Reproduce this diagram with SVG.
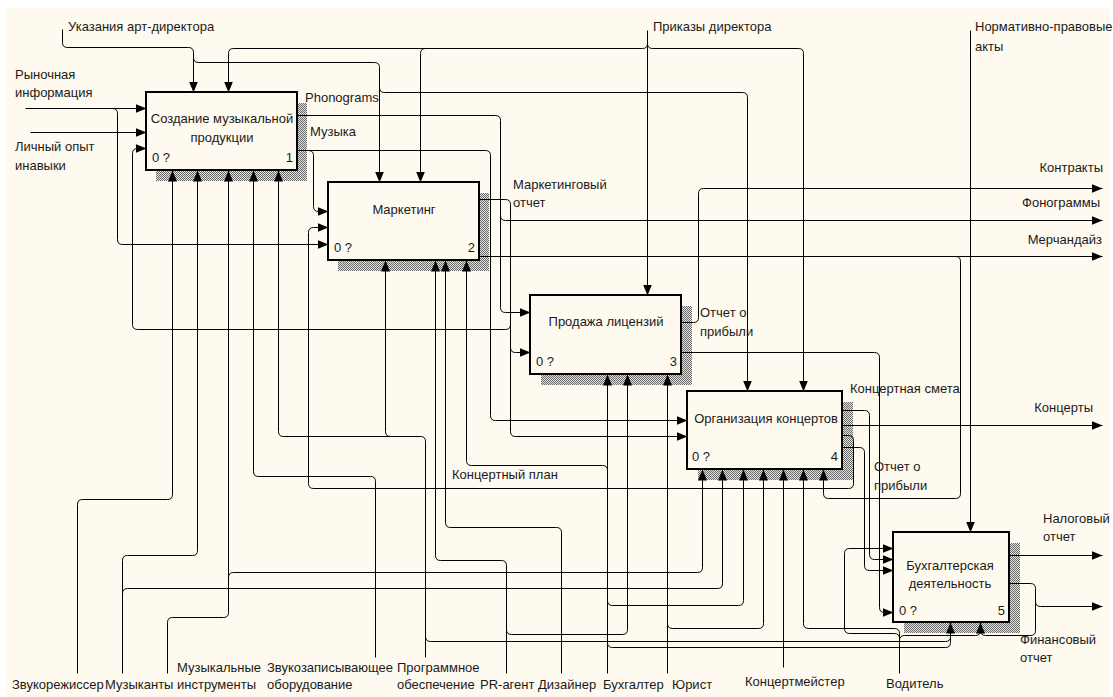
<svg xmlns="http://www.w3.org/2000/svg" width="1113" height="697" viewBox="0 0 1113 697">
  <defs>
    <style>
      .t { font-family: "Liberation Sans", Arial, sans-serif; font-size: 13px; fill: #1a1a1a; }
      .m { text-anchor: middle; }
      .e { text-anchor: end; }
      .box { fill: #fffaef; stroke: #000; stroke-width: 2; }
      .sh { fill: url(#hatch); }
      .c { fill: none; stroke: #000; stroke-width: 1; }
      .a { marker-end: url(#ah); }
    </style>
    <pattern id="hatch" width="2" height="2" patternUnits="userSpaceOnUse">
      <rect width="2" height="2" fill="#e2e2e2"/>
      <rect width="1" height="1" fill="#6a6a6a"/>
      <rect x="1" y="1" width="1" height="1" fill="#6a6a6a"/>
    </pattern>
    <marker id="ah" markerUnits="userSpaceOnUse" markerWidth="11" markerHeight="9" refX="11" refY="4.5" orient="auto" viewBox="0 0 11 9">
      <path d="M0,0 L11,4.5 L0,9 z" fill="#000"/>
    </marker>
  </defs>

  <!-- sheet -->
  <rect width="1113" height="697" fill="#ffffff"/>
  <rect x="6" y="8" width="1104" height="689" fill="#fffaef"/>

  <!-- activity boxes -->
  <g id="node1">
    <rect class="sh" x="156" y="103" width="151" height="78"/>
    <rect class="box" x="146" y="92" width="151" height="78"/>
    <text class="t m" x="222" y="123">Создание музыкальной</text>
    <text class="t m" x="222" y="142">продукции</text>
    <text class="t" x="152" y="162">0 ?</text>
    <text class="t e" x="293" y="162">1</text>
  </g>
  <g id="node2">
    <rect class="sh" x="338" y="193" width="151" height="78"/>
    <rect class="box" x="328" y="182" width="151" height="78"/>
    <text class="t m" x="404" y="214">Маркетинг</text>
    <text class="t" x="334" y="252">0 ?</text>
    <text class="t e" x="475" y="252">2</text>
  </g>
  <g id="node3">
    <rect class="sh" x="541" y="306" width="151" height="79"/>
    <rect class="box" x="530" y="295" width="151" height="79"/>
    <text class="t m" x="606" y="326">Продажа лицензий</text>
    <text class="t" x="536" y="366">0 ?</text>
    <text class="t e" x="677" y="366">3</text>
  </g>
  <g id="node4">
    <rect class="sh" x="698" y="402" width="155" height="78"/>
    <rect class="box" x="687" y="391" width="155" height="78"/>
    <text class="t m" x="766" y="423">Организация концертов</text>
    <text class="t" x="692" y="461">0 ?</text>
    <text class="t e" x="838" y="461">4</text>
  </g>
  <g id="node5">
    <rect class="sh" x="904" y="543" width="116" height="90"/>
    <rect class="box" x="893" y="532" width="116" height="90"/>
    <text class="t m" x="950" y="570">Бухгалтерская</text>
    <text class="t m" x="950" y="588">деятельность</text>
    <text class="t" x="899" y="615">0 ?</text>
    <text class="t e" x="1005" y="615">5</text>
  </g>

  <!-- arrows -->
  <g id="connectors" transform="translate(0.5,0.5)">
    <!-- controls -->
    <path class="c a" d="M62,29 V42 Q62,47 67,47 H188 Q193,47 193,52 V92"/>
    <path class="c a" d="M193,57 Q193,62 198,62 H374 Q379,62 379,67 V182"/>
    <path class="c a" d="M379,87 Q379,92 384,92 H742 Q747,92 747,97 V391"/>
    <path class="c a" d="M647,30 V295"/>
    <path class="c a" d="M642,48 H233 Q228,48 228,53 V92"/>
    <path class="c a" d="M425,48 Q420,48 420,53 V182"/>
    <path class="c a" d="M652,48 H798 Q803,48 803,53 V391"/>
    <path class="c" d="M642,48 Q647,48 647,43 M652,48 Q647,48 647,43"/>
    <path class="c a" d="M970,30 V532"/>

    <!-- external inputs -->
    <path class="c a" d="M25,108 H146"/>
    <path class="c a" d="M112,108 Q117,108 117,113 V239 Q117,244 122,244 H328"/>
    <path class="c a" d="M30,132 H146"/>

    <!-- outputs of 1 -->
    <path class="c a" d="M297,115 H495 Q500,115 500,120 V307 Q500,312 505,312 H530"/>
    <path class="c a" d="M500,215 Q500,220 505,220 H1102"/>
    <path class="c a" d="M297,150 H485 Q490,150 490,155 V415 Q490,420 495,420 H687"/>
    <path class="c a" d="M308,150 Q313,150 313,155 V206 Q313,211 318,211 H328"/>

    <!-- outputs of 2 -->
    <path class="c a" d="M479,199 H505 Q510,199 510,204 V431 Q510,436 515,436 H687"/>
    <path class="c a" d="M510,324 Q510,329 505,329 H137 Q132,329 132,324 V153 Q132,148 137,148 H146"/>
    <path class="c a" d="M510,347 Q510,352 515,352 H530"/>
    <path class="c a" d="M479,256 H1102"/>
    <path class="c a" d="M955,256 Q960,256 960,261 V493 Q960,498 955,498 H828 Q823,498 823,493 V469"/>

    <!-- outputs of 3 -->
    <path class="c a" d="M681,322 H693 Q698,322 698,317 V193 Q698,188 703,188 H1102"/>
    <path class="c a" d="M681,352 H874 Q879,352 879,357 V607 Q879,612 884,612 H893"/>

    <!-- outputs of 4 -->
    <path class="c a" d="M842,410 H864 Q869,410 869,415 V554 Q869,559 874,559 H893"/>
    <path class="c a" d="M842,425 H1102"/>
    <path class="c a" d="M842,435 H848 Q853,435 853,440 V483 Q853,488 848,488 H313 Q308,488 308,483 V232 Q308,227 313,227 H328"/>
    <path class="c a" d="M842,447 H859 Q864,447 864,452 V565 Q864,570 869,570 H893"/>

    <!-- outputs of 5 -->
    <path class="c a" d="M1009,555 H1102"/>
    <path class="c a" d="M1009,583 H1030 Q1035,583 1035,588 V601 Q1035,606 1040,606 H1102"/>
    <path class="c" d="M1035,601 V630 Q1035,635 1030,635 H985 Q980,635 980,630"/>

    <!-- mechanisms -->
    <path class="c a" d="M77,673 V504 Q77,499 82,499 H167 Q172,499 172,494 V170"/>
    <path class="c a" d="M122,673 V560 Q122,555 127,555 H192 Q197,555 197,550 V170"/>
    <path class="c a" d="M122,593 Q122,588 127,588 H717 Q722,588 722,583 V469"/>
    <path class="c a" d="M167,673 V622 Q167,617 172,617 H223 Q228,617 228,612 V170"/>
    <path class="c a" d="M228,577 Q228,572 233,572 H697 Q702,572 702,567 V469"/>
    <path class="c a" d="M375,657 V481 Q375,476 370,476 H258 Q253,476 253,471 V170"/>
    <path class="c a" d="M425,657 V441 Q425,436 420,436 H283 Q278,436 278,431 V170"/>
    <path class="c a" d="M390,436 Q385,436 385,431 V260"/>
    <path class="c a" d="M425,636 Q425,641 430,641 H945 Q950,641 950,636 V622"/>
    <path class="c a" d="M506,673 V565 Q506,560 501,560 H440 Q435,560 435,555 V260"/>
    <path class="c a" d="M506,629 Q506,634 511,634 H622 Q627,634 627,629 V374"/>
    <path class="c a" d="M561,673 V532 Q561,527 556,527 H450 Q445,527 445,522 V260"/>
    <path class="c a" d="M607,673 V374"/>
    <path class="c a" d="M607,470 Q607,465 602,465 H471 Q466,465 466,460 V260"/>
    <path class="c a" d="M607,600 Q607,605 612,605 H738 Q743,605 743,600 V469"/>
    <path class="c" d="M607,642 Q607,647 612,647 H945 Q950,647 950,642 V636"/>
    <path class="c a" d="M667,673 V374"/>
    <path class="c a" d="M667,623 Q667,628 672,628 H758 Q763,628 763,623 V469"/>
    <path class="c a" d="M783,667 V469"/>
    <path class="c a" d="M899,673 V633 Q899,628 894,628 H808 Q803,628 803,623 V469"/>
    <path class="c a" d="M899,638 Q899,633 894,633 H849 Q844,633 844,628 V553 Q844,548 849,548 H893"/>
    <path class="c a" d="M899,640 Q899,635 904,635 H975 Q980,635 980,630 V622"/>
  </g>

  <!-- arrow labels -->
  <g id="labels">
    <text class="t" x="68" y="31">Указания арт-директора</text>
    <text class="t" x="653" y="31">Приказы директора</text>
    <text class="t" x="975" y="31">Нормативно-правовые</text>
    <text class="t" x="975" y="51">акты</text>
    <text class="t" x="15" y="79">Рыночная</text>
    <text class="t" x="15" y="97">информация</text>
    <text class="t" x="15" y="151">Личный опыт</text>
    <text class="t" x="15" y="170">инавыки</text>
    <text class="t" x="305" y="102">Phonograms</text>
    <text class="t" x="310" y="136">Музыка</text>
    <text class="t" x="513" y="189">Маркетинговый</text>
    <text class="t" x="513" y="207">отчет</text>
    <text class="t e" x="1103" y="172">Контракты</text>
    <text class="t e" x="1100" y="207">Фонограммы</text>
    <text class="t e" x="1102" y="244">Мерчандайз</text>
    <text class="t" x="700" y="317">Отчет о</text>
    <text class="t" x="700" y="336">прибыли</text>
    <text class="t" x="850" y="393">Концертная смета</text>
    <text class="t e" x="1093" y="412">Концерты</text>
    <text class="t" x="874" y="471">Отчет о</text>
    <text class="t" x="874" y="490">прибыли</text>
    <text class="t" x="452" y="479">Концертный план</text>
    <text class="t" x="1043" y="523">Налоговый</text>
    <text class="t" x="1043" y="541">отчет</text>
    <text class="t" x="1020" y="644">Финансовый</text>
    <text class="t" x="1020" y="662">отчет</text>
    <text class="t" x="12" y="689">Звукорежиссер</text>
    <text class="t" x="105" y="689">Музыканты</text>
    <text class="t" x="177" y="672">Музыкальные</text>
    <text class="t" x="177" y="689">инструменты</text>
    <text class="t" x="267" y="672">Звукозаписывающее</text>
    <text class="t" x="267" y="689">оборудование</text>
    <text class="t" x="397" y="672">Программное</text>
    <text class="t" x="397" y="689">обеспечение</text>
    <text class="t" x="480" y="689">PR-агент</text>
    <text class="t" x="538" y="689">Дизайнер</text>
    <text class="t" x="603" y="689">Бухгалтер</text>
    <text class="t" x="672" y="689">Юрист</text>
    <text class="t" x="745" y="686">Концертмейстер</text>
    <text class="t" x="886" y="688">Водитель</text>
  </g>
</svg>
